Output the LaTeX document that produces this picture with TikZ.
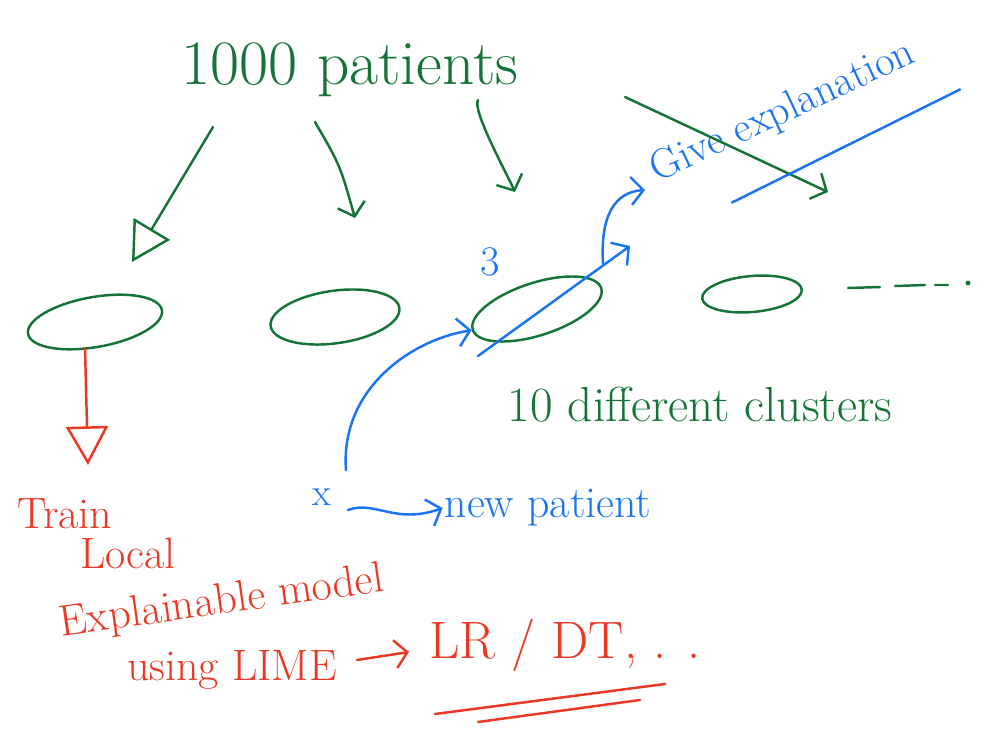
\documentclass[tikz,border=0pt]{standalone}
\usetikzlibrary{arrows.meta,shapes.geometric}
\definecolor{pengreen}{RGB}{20,115,55}
\definecolor{penblue}{RGB}{25,115,245}
\definecolor{penred}{RGB}{235,55,35}
\begin{document}
\begin{tikzpicture}[x=0.02cm,y=-0.02cm,
  gline/.style={draw=pengreen,line width=1.4pt,line cap=round},
  bline/.style={draw=penblue,line width=1.4pt,line cap=round},
  rline/.style={draw=penred,line width=1.4pt,line cap=round},
  tri/.style={-{Triangle[open,length=22pt,width=24pt,line width=1.4pt]}},
  barb/.style={-{Straight Barb[length=7pt,width=16pt,line width=1.4pt]}},
  clus/.style={ellipse,draw=pengreen,line width=1.4pt,inner sep=0pt},
  gtxt/.style={text=pengreen,inner sep=1pt},
  btxt/.style={text=penblue,inner sep=1pt},
  rtxt/.style={text=penred,inner sep=1pt}]
\useasboundingbox (0,0) rectangle (985,731);

% texts
\node[gtxt,font=\fontsize{36}{42}\selectfont] (pat) at (350,70) {1000 patients};
\node[gtxt,font=\fontsize{28}{34}\selectfont] (diff) at (700,405) {10 different clusters};
\node[btxt,font=\fontsize{24}{28}\selectfont,rotate=25] (give) at (783,112) {Give explanation};
\node[btxt,font=\fontsize{24}{28}\selectfont] (three) at (490,262) {3};
\node[btxt,font=\fontsize{22}{26}\selectfont] (xx) at (322,497) {x};
\node[btxt,font=\fontsize{25}{30}\selectfont] (newp) at (548,508) {new patient};
\node[rtxt,font=\fontsize{25}{30}\selectfont,anchor=west] (train) at (15,514) {Train};
\node[rtxt,font=\fontsize{25}{30}\selectfont,anchor=west] (local) at (78,553) {Local};
\node[rtxt,font=\fontsize{25}{30}\selectfont,rotate=8] (expl) at (222,603) {Explainable model};
\node[rtxt,font=\fontsize{25}{30}\selectfont] (lime) at (232,670) {using LIME};
\node[rtxt,font=\fontsize{30}{36}\selectfont] (lr) at (565,645) {LR / DT, . .};

% clusters
\node[clus,minimum width=2.72cm,minimum height=1.0cm,rotate=10] (c1) at (95,322) {};
\node[clus,minimum width=2.6cm,minimum height=1.05cm,rotate=8] (c2) at (335,317) {};
\node[clus,minimum width=2.7cm,minimum height=1.05cm,rotate=18] (c3) at (537,309) {};
\node[clus,minimum width=2.0cm,minimum height=0.72cm,rotate=5] (c4) at (752,294) {};

% free ends
\coordinate (a1s) at (213,127); \coordinate (a1e) at (132,262);
\coordinate (a2s) at (315,122); \coordinate (a2e) at (355,218);
\coordinate (a3s) at (478,100); \coordinate (a3e) at (515,192);
\coordinate (a4s) at (625,97);  \coordinate (a4e) at (828,192);
\coordinate (r1s) at (85,348); \coordinate (r1e) at (88,465);
\coordinate (xs) at (346,470);
\coordinate (xa) at (348,510);
\coordinate (ls) at (478,356); \coordinate (le) at (630,246);
\coordinate (gs) at (603,264); \coordinate (ge) at (645,190);
\coordinate (d1) at (848,288); \coordinate (d2) at (880,287);
\coordinate (d3) at (895,286); \coordinate (d4) at (925,285);
\coordinate (d5) at (935,285); \coordinate (d6) at (948,285);
\coordinate (d7) at (968,283);
\coordinate (u1s) at (435,714); \coordinate (u1e) at (665,684);
\coordinate (u2s) at (478,722); \coordinate (u2e) at (640,700);

% green arrows
\draw[gline,tri] (a1s) -- (a1e);
\draw[gline,barb] (a2s) .. controls (340,165) .. (a2e);
\draw[gline,barb] (a3s) .. controls (472,110) and (505,170) .. (a3e);
\draw[gline,barb] (a4s) -- (a4e);
\draw[gline] (d1) -- (d2) (d3) -- (d4) (d5) -- (d6);
\fill[pengreen] (d7) circle (1.4pt);

% red arrow
\draw[rline,tri] (r1s) -- (r1e);

% blue connectors
\draw[bline,barb] (xs) .. controls (340,390) and (410,340) .. (c3.west);
\draw[bline,barb] (xa) .. controls (375,500) and (395,525) .. (newp.west);
\draw[bline,barb] (ls) -- (le);
\draw[bline,barb] (gs) .. controls (600,215) and (615,192) .. (ge);
\draw[bline] (give.south west) ++(72,10) -- ++(228,-113);

% LIME arrow and underlines
\draw[rline,barb] (lime.east) ++(18,-10) -- ++(52,-8);
\draw[rline] (u1s) -- (u1e);
\draw[rline] (u2s) -- (u2e);
\end{tikzpicture}
\end{document}
